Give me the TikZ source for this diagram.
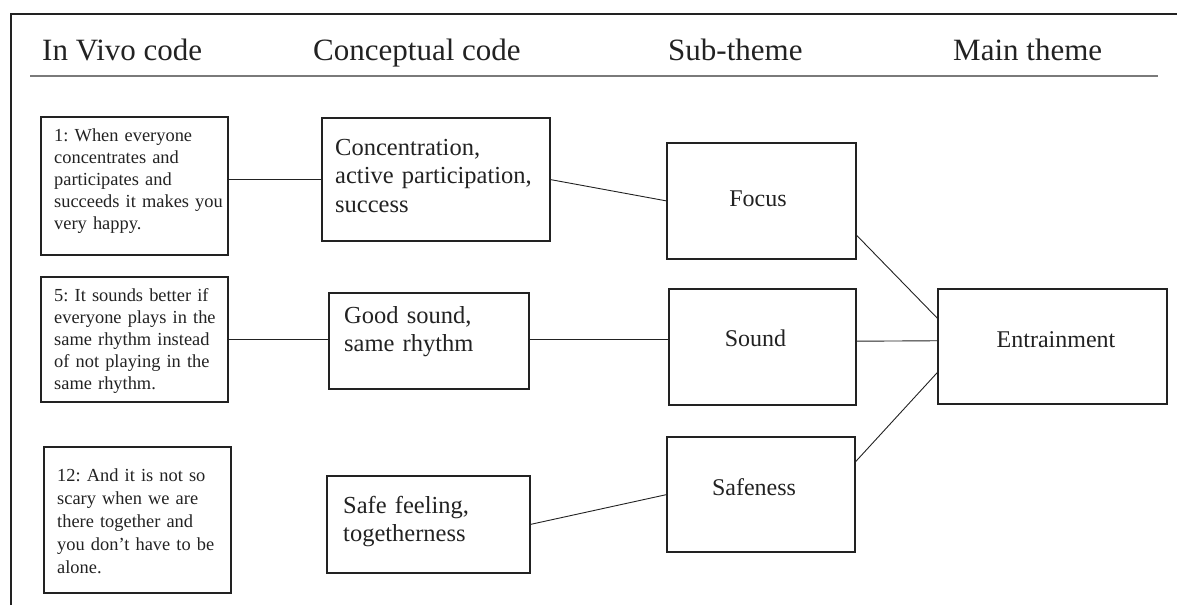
\documentclass[tikz,border=0pt]{standalone}
\usepackage{fontspec}
\setmainfont{Liberation Serif}
\usetikzlibrary{calc}
\definecolor{ink}{HTML}{222222}
\definecolor{rulegray}{HTML}{7A7A7A}
\frenchspacing
\begin{document}
\frenchspacing
\begin{tikzpicture}[x=1pt,y=-1pt,
  box/.style={draw=ink, line width=1.6pt, anchor=north west, inner sep=0pt, outer sep=0pt},
  conn/.style={draw=ink, line width=0.9pt},
  vivo/.style={anchor=base west, inner sep=0pt, text width=200pt, align=left, text=ink, font=\fontsize{18.4}{22}\selectfont\frenchspacing},
  concept/.style={anchor=base west, inner sep=0pt, text width=230pt, align=left, text=ink, font=\fontsize{24.5}{28.5}\selectfont\frenchspacing},
  theme/.style={anchor=base, inner sep=0pt, text=ink, font=\fontsize{24}{28}\selectfont},
  head/.style={anchor=base west, inner sep=0pt, text=ink, font=\fontsize{31}{36}\selectfont}]
\useasboundingbox (0,0) rectangle (1177,605);
% frame and header rule
\draw[ink, line width=1.6pt] (11,605) -- (11,14) -- (1177,14);
\draw[rulegray, line width=1.6pt] (30,76) -- (1158,76);
% headers
\node[head] (h1) at (42,60) {In Vivo code};
\node[head] (h2) at (313,60) {Conceptual code};
\node[head] (h3) at (668,60) {Sub-theme};
\node[head] (h4) at (953,60) {Main theme};
% in vivo boxes
\node[box, minimum width=187pt, minimum height=138pt] (b1) at (41,117) {};
\node[box, minimum width=187pt, minimum height=125pt] (b2) at (41,277) {};
\node[box, minimum width=187pt, minimum height=146pt] (b3) at (44,447) {};
\node[vivo] (t1) at (54,141) {1: When everyone\\concentrates and\\participates and\\succeeds it makes you\\very happy.};
\node[vivo] (t2) at (54,301) {5: It sounds better if\\everyone plays in the\\same rhythm instead\\of not playing in the\\same rhythm.};
\node[vivo, font=\fontsize{18.4}{23}\selectfont\frenchspacing] (t3) at (57,481) {12: And it is not so\\scary when we are\\there together and\\you don’t have to be\\alone.};
% concept boxes
\node[box, minimum width=228pt, minimum height=123pt] (c1) at (322,118) {};
\node[box, minimum width=200pt, minimum height=96pt] (c2) at (329,293) {};
\node[box, minimum width=203pt, minimum height=97pt] (c3) at (327,476) {};
\node[concept] (k1) at (335,155) {Concentration,\\active participation,\\success};
\node[concept] (k2) at (344,323) {Good sound,\\same rhythm};
\node[concept] (k3) at (343,513) {Safe feeling,\\togetherness};
% sub-themes
\node[box, minimum width=189pt, minimum height=116pt] (f) at (667,143) {};
\node[box, minimum width=187pt, minimum height=116pt] (s) at (669,289) {};
\node[box, minimum width=188pt, minimum height=115pt] (sf) at (667,437) {};
\node[theme] (tf) at (758,206) {Focus};
\node[theme] (ts) at (755.5,346) {Sound};
\node[theme] (tsf) at (754,495) {Safeness};
% main theme
\node[box, minimum width=229pt, minimum height=115pt] (e) at (938,289) {};
\node[theme] (te) at (1056,347) {Entrainment};
% connectors
\draw[conn] (b1.east |- c1.west) -- (c1.west);
\draw[conn] (b2.east) -- (b2.east -| c2.west);
\draw[conn] (c2.east |- b2.east) -- (b2.east -| s.west);
\draw[conn] ($(b3.north east)!0.48!(b3.south east)$) -- ($(b3.north east)!0.48!(b3.south east)$ -| c3.west);
\draw[conn] (c1.east) -- (f.west);
\draw[conn] (c3.east) -- (sf.west);
\draw[conn] ($(f.north east)!0.79!(f.south east)$) -- ($(e.north west)!0.26!(e.south west)$);
\draw[conn] ($(s.north east)!0.45!(s.south east)$) -- ($(e.north west)!0.45!(e.south west)$);
\draw[conn] ($(sf.north east)!0.22!(sf.south east)$) -- ($(e.north west)!0.72!(e.south west)$);
\end{tikzpicture}
\end{document}
